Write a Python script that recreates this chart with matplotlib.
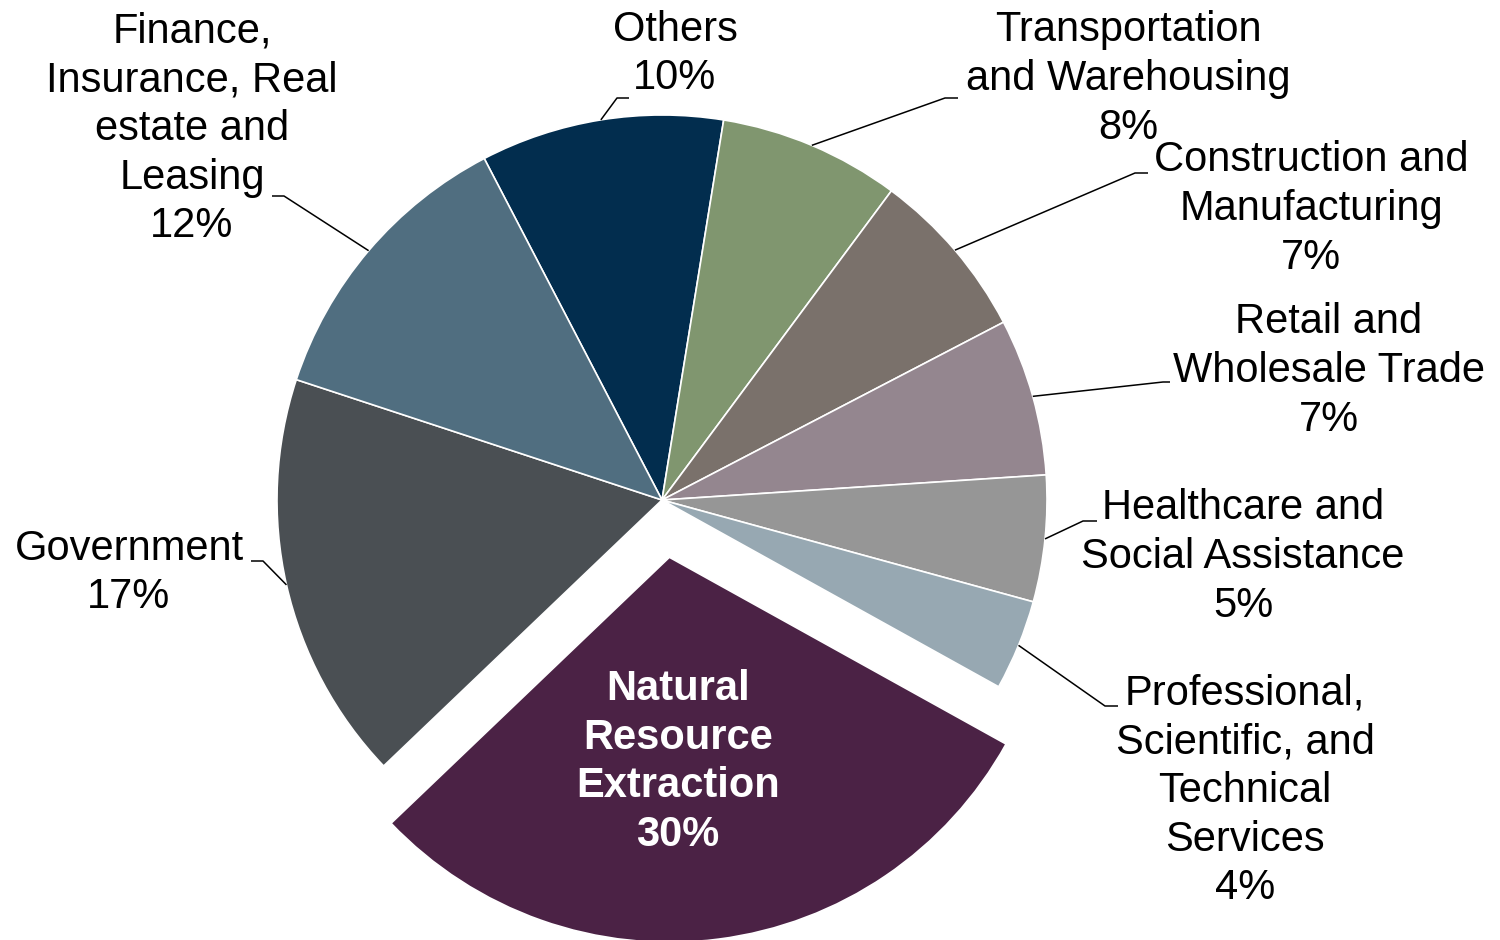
import matplotlib
matplotlib.use("Agg")
import matplotlib.pyplot as plt
import numpy as np

# ---------------- data ----------------
categories = [
    "Others",
    "Transportation\nand Warehousing",
    "Construction and\nManufacturing",
    "Retail and\nWholesale Trade",
    "Healthcare and\nSocial Assistance",
    "Professional,\nScientific, and\nTechnical\nServices",
    "Natural\nResource\nExtraction",
    "Government",
    "Finance,\nInsurance, Real\nestate and\nLeasing",
]
shares = [10.2, 7.6, 7.2, 6.6, 5.3, 3.8, 29.8, 17.2, 12.3]
colors = ["#022D4E", "#80966F", "#7A716B", "#94868F", "#969696",
          "#97A8B2", "#4B2245", "#4A4F53", "#506E80"]
highlight = "Natural\nResource\nExtraction"

# ---------------- layout (pixels, y measured from top) ----------------
W, H = 1500, 940
CX, CY_TOP, R = 662, 500, 385
EXPLODE_FRAC = 0.15
# label centre, elbow of the leader line, end of the leader line
label_pos = {
    "Others": ((675, 54), (617, 98), (629, 98)),
    "Transportation\nand Warehousing": ((1128, 79), (945, 98), (958, 98)),
    "Construction and\nManufacturing": ((1311, 209), (1135, 173), (1148, 173)),
    "Retail and\nWholesale Trade": ((1329, 371), (1163, 382), (1170, 382)),
    "Healthcare and\nSocial Assistance": ((1243, 557), (1083, 521), (1097, 521)),
    "Professional,\nScientific, and\nTechnical\nServices": ((1245, 791), (1105, 706), (1118, 706)),
    "Government": ((129, 573), (263, 561), (251, 561)),
    "Finance,\nInsurance, Real\nestate and\nLeasing": ((192, 129), (284, 196), (272, 196)),
}
inner_label_pos = (678, 762)

FONT = ["Liberation Sans", "DejaVu Sans"]
FS = 30
LS = 1.28

fig = plt.figure(figsize=(15, 9.4), dpi=100)
ax = fig.add_axes([0, 0, 1, 1])

CY = H - CY_TOP
explode = [EXPLODE_FRAC * R if c == highlight else 0 for c in categories]
wedges, _ = ax.pie(shares, colors=colors, explode=explode, startangle=117.5,
                   counterclock=False, center=(CX, CY), radius=R,
                   wedgeprops=dict(edgecolor="white", linewidth=1.2))
ax.set_xlim(0, W)
ax.set_ylim(0, H)
ax.set_aspect("equal")
ax.axis("off")

for w, cat, v in zip(wedges, categories, shares):
    txt = f"{cat}\n{v:.0f}%"
    if cat == highlight:
        x, y = inner_label_pos
        ax.text(x, H - y, txt, ha="center", va="center", fontsize=FS,
                family=FONT, fontweight="bold", color="white", linespacing=LS)
        continue
    (lx, ly), (ex, ey), (tx, ty) = label_pos[cat]
    mid = np.deg2rad(0.5 * (w.theta1 + w.theta2))
    sx = CX + R * np.cos(mid)
    sy = CY + R * np.sin(mid)
    ax.plot([sx, ex, tx], [sy, H - ey, H - ty], color="black", lw=1.1,
            solid_capstyle="butt", zorder=1)
    ax.text(lx, H - ly, txt, ha="center", va="center", fontsize=FS,
            family=FONT, color="black", linespacing=LS)

fig.savefig("out.png", dpi=100, facecolor="white")
